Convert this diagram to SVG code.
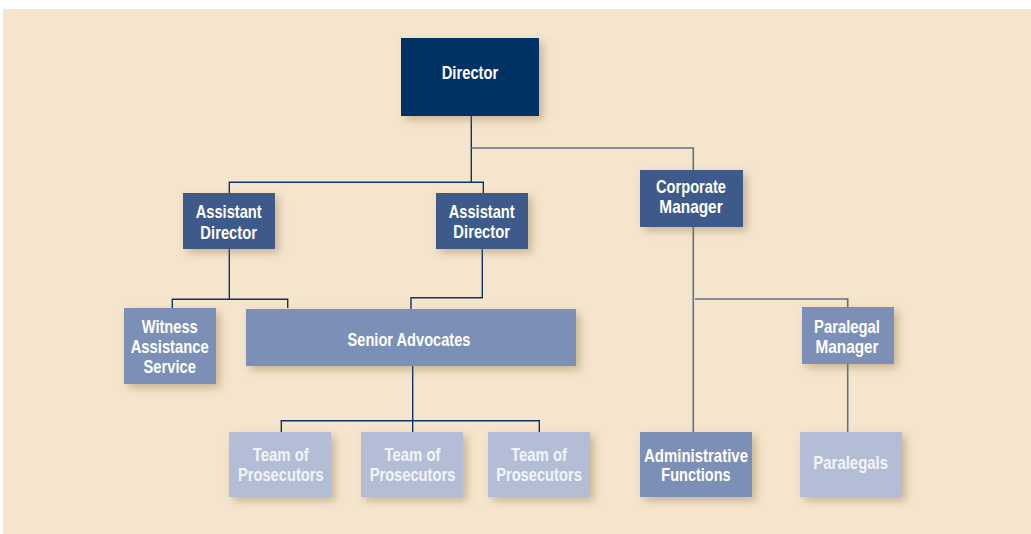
<svg xmlns="http://www.w3.org/2000/svg" width="1031" height="534" viewBox="0 0 1031 534">
<defs>
<filter id="sh" x="-20%" y="-20%" width="150%" height="160%">
<feGaussianBlur in="SourceAlpha" stdDeviation="4.5"/>
<feOffset dx="4" dy="4" result="b"/>
<feFlood flood-color="#8a6a40" flood-opacity="0.4"/>
<feComposite in2="b" operator="in"/>
<feMerge><feMergeNode/><feMergeNode in="SourceGraphic"/></feMerge>
</filter>
</defs>
<style>
.bg{fill:#f5e5cc}
.n rect{filter:url(#sh)}
.d rect{fill:#003366}
.m rect{fill:#3c5a8a}
.l rect{fill:#7b8fb6}
.p rect{fill:#b3bed6}
text{font-family:"Liberation Sans",Arial,sans-serif;font-size:18.5px;font-weight:bold;fill:#ffffff;text-anchor:middle}
.p text{fill:#f2f4f9}
.c path{fill:none;stroke:#0d3468;stroke-width:1.4}
.c path.g{stroke:#5f7089;stroke-width:1.6}
</style>
<rect class="bg" x="3" y="9" width="1028" height="525"/>
<g class="c">
<path d="M471.3 116V182.3M229.3 193V182.3H483.3V193"/>
<path class="g" d="M471.3 148H693.3V170"/>
<path d="M229.3 249V299.3M172.3 308V299.3H287.7V308"/>
<path d="M482.3 249V297.7H411V309"/>
<path d="M412.7 366V420.7M281.3 432V420.7H539.3V432M412.7 420.7V432"/>
<path class="g" d="M693.3 227V432M695 299H847.7V307"/>
<path class="g" d="M847.7 364V432"/>
</g>
<g id="director" class="n d"><rect x="401" y="38" width="138" height="78"/><text x="470" y="79.3" textLength="56.7" lengthAdjust="spacingAndGlyphs">Director</text></g>
<g id="asst-director-1" class="n m"><rect x="183" y="193" width="92" height="56"/><text x="228.7" y="218.3" textLength="66" lengthAdjust="spacingAndGlyphs">Assistant</text><text x="228.7" y="238.7" textLength="56.7" lengthAdjust="spacingAndGlyphs">Director</text></g>
<g id="asst-director-2" class="n m"><rect x="436" y="193" width="92" height="56"/><text x="481.7" y="217.5" textLength="66" lengthAdjust="spacingAndGlyphs">Assistant</text><text x="481.7" y="237.5" textLength="56.7" lengthAdjust="spacingAndGlyphs">Director</text></g>
<g id="corporate-manager" class="n m"><rect x="640" y="170" width="103" height="57"/><text x="691" y="193.3" textLength="70" lengthAdjust="spacingAndGlyphs">Corporate</text><text x="691" y="213.3" textLength="63.3" lengthAdjust="spacingAndGlyphs">Manager</text></g>
<g id="witness" class="n l"><rect x="124" y="308" width="92" height="76"/><text x="169.7" y="332.7" textLength="56" lengthAdjust="spacingAndGlyphs">Witness</text><text x="169.7" y="353.3" textLength="78" lengthAdjust="spacingAndGlyphs">Assistance</text><text x="169.7" y="373.3" textLength="52.3" lengthAdjust="spacingAndGlyphs">Service</text></g>
<g id="senior-advocates" class="n l"><rect x="246" y="309" width="330" height="57"/><text x="409" y="346" textLength="123" lengthAdjust="spacingAndGlyphs">Senior Advocates</text></g>
<g id="paralegal-manager" class="n l"><rect x="802" y="307" width="92" height="57"/><text x="847" y="333.3" textLength="66" lengthAdjust="spacingAndGlyphs">Paralegal</text><text x="847" y="353.3" textLength="63" lengthAdjust="spacingAndGlyphs">Manager</text></g>
<g id="team-1" class="n p"><rect x="229" y="432" width="102" height="65"/><text x="280.8" y="460.7" textLength="56" lengthAdjust="spacingAndGlyphs">Team of</text><text x="280.8" y="480.7" textLength="85.7" lengthAdjust="spacingAndGlyphs">Prosecutors</text></g>
<g id="team-2" class="n p"><rect x="361" y="432" width="102" height="65"/><text x="412.5" y="460.7" textLength="56" lengthAdjust="spacingAndGlyphs">Team of</text><text x="412.5" y="480.7" textLength="85.7" lengthAdjust="spacingAndGlyphs">Prosecutors</text></g>
<g id="team-3" class="n p"><rect x="488" y="432" width="102" height="65"/><text x="539" y="460.7" textLength="56" lengthAdjust="spacingAndGlyphs">Team of</text><text x="539" y="480.7" textLength="85.7" lengthAdjust="spacingAndGlyphs">Prosecutors</text></g>
<g id="admin" class="n l"><rect x="640" y="432" width="112" height="65"/><text x="696" y="462" textLength="104" lengthAdjust="spacingAndGlyphs">Administrative</text><text x="696" y="481.3" textLength="69.3" lengthAdjust="spacingAndGlyphs">Functions</text></g>
<g id="paralegals" class="n p"><rect x="800" y="432" width="102" height="65"/><text x="850.7" y="468.7" textLength="74.7" lengthAdjust="spacingAndGlyphs">Paralegals</text></g>
</svg>
